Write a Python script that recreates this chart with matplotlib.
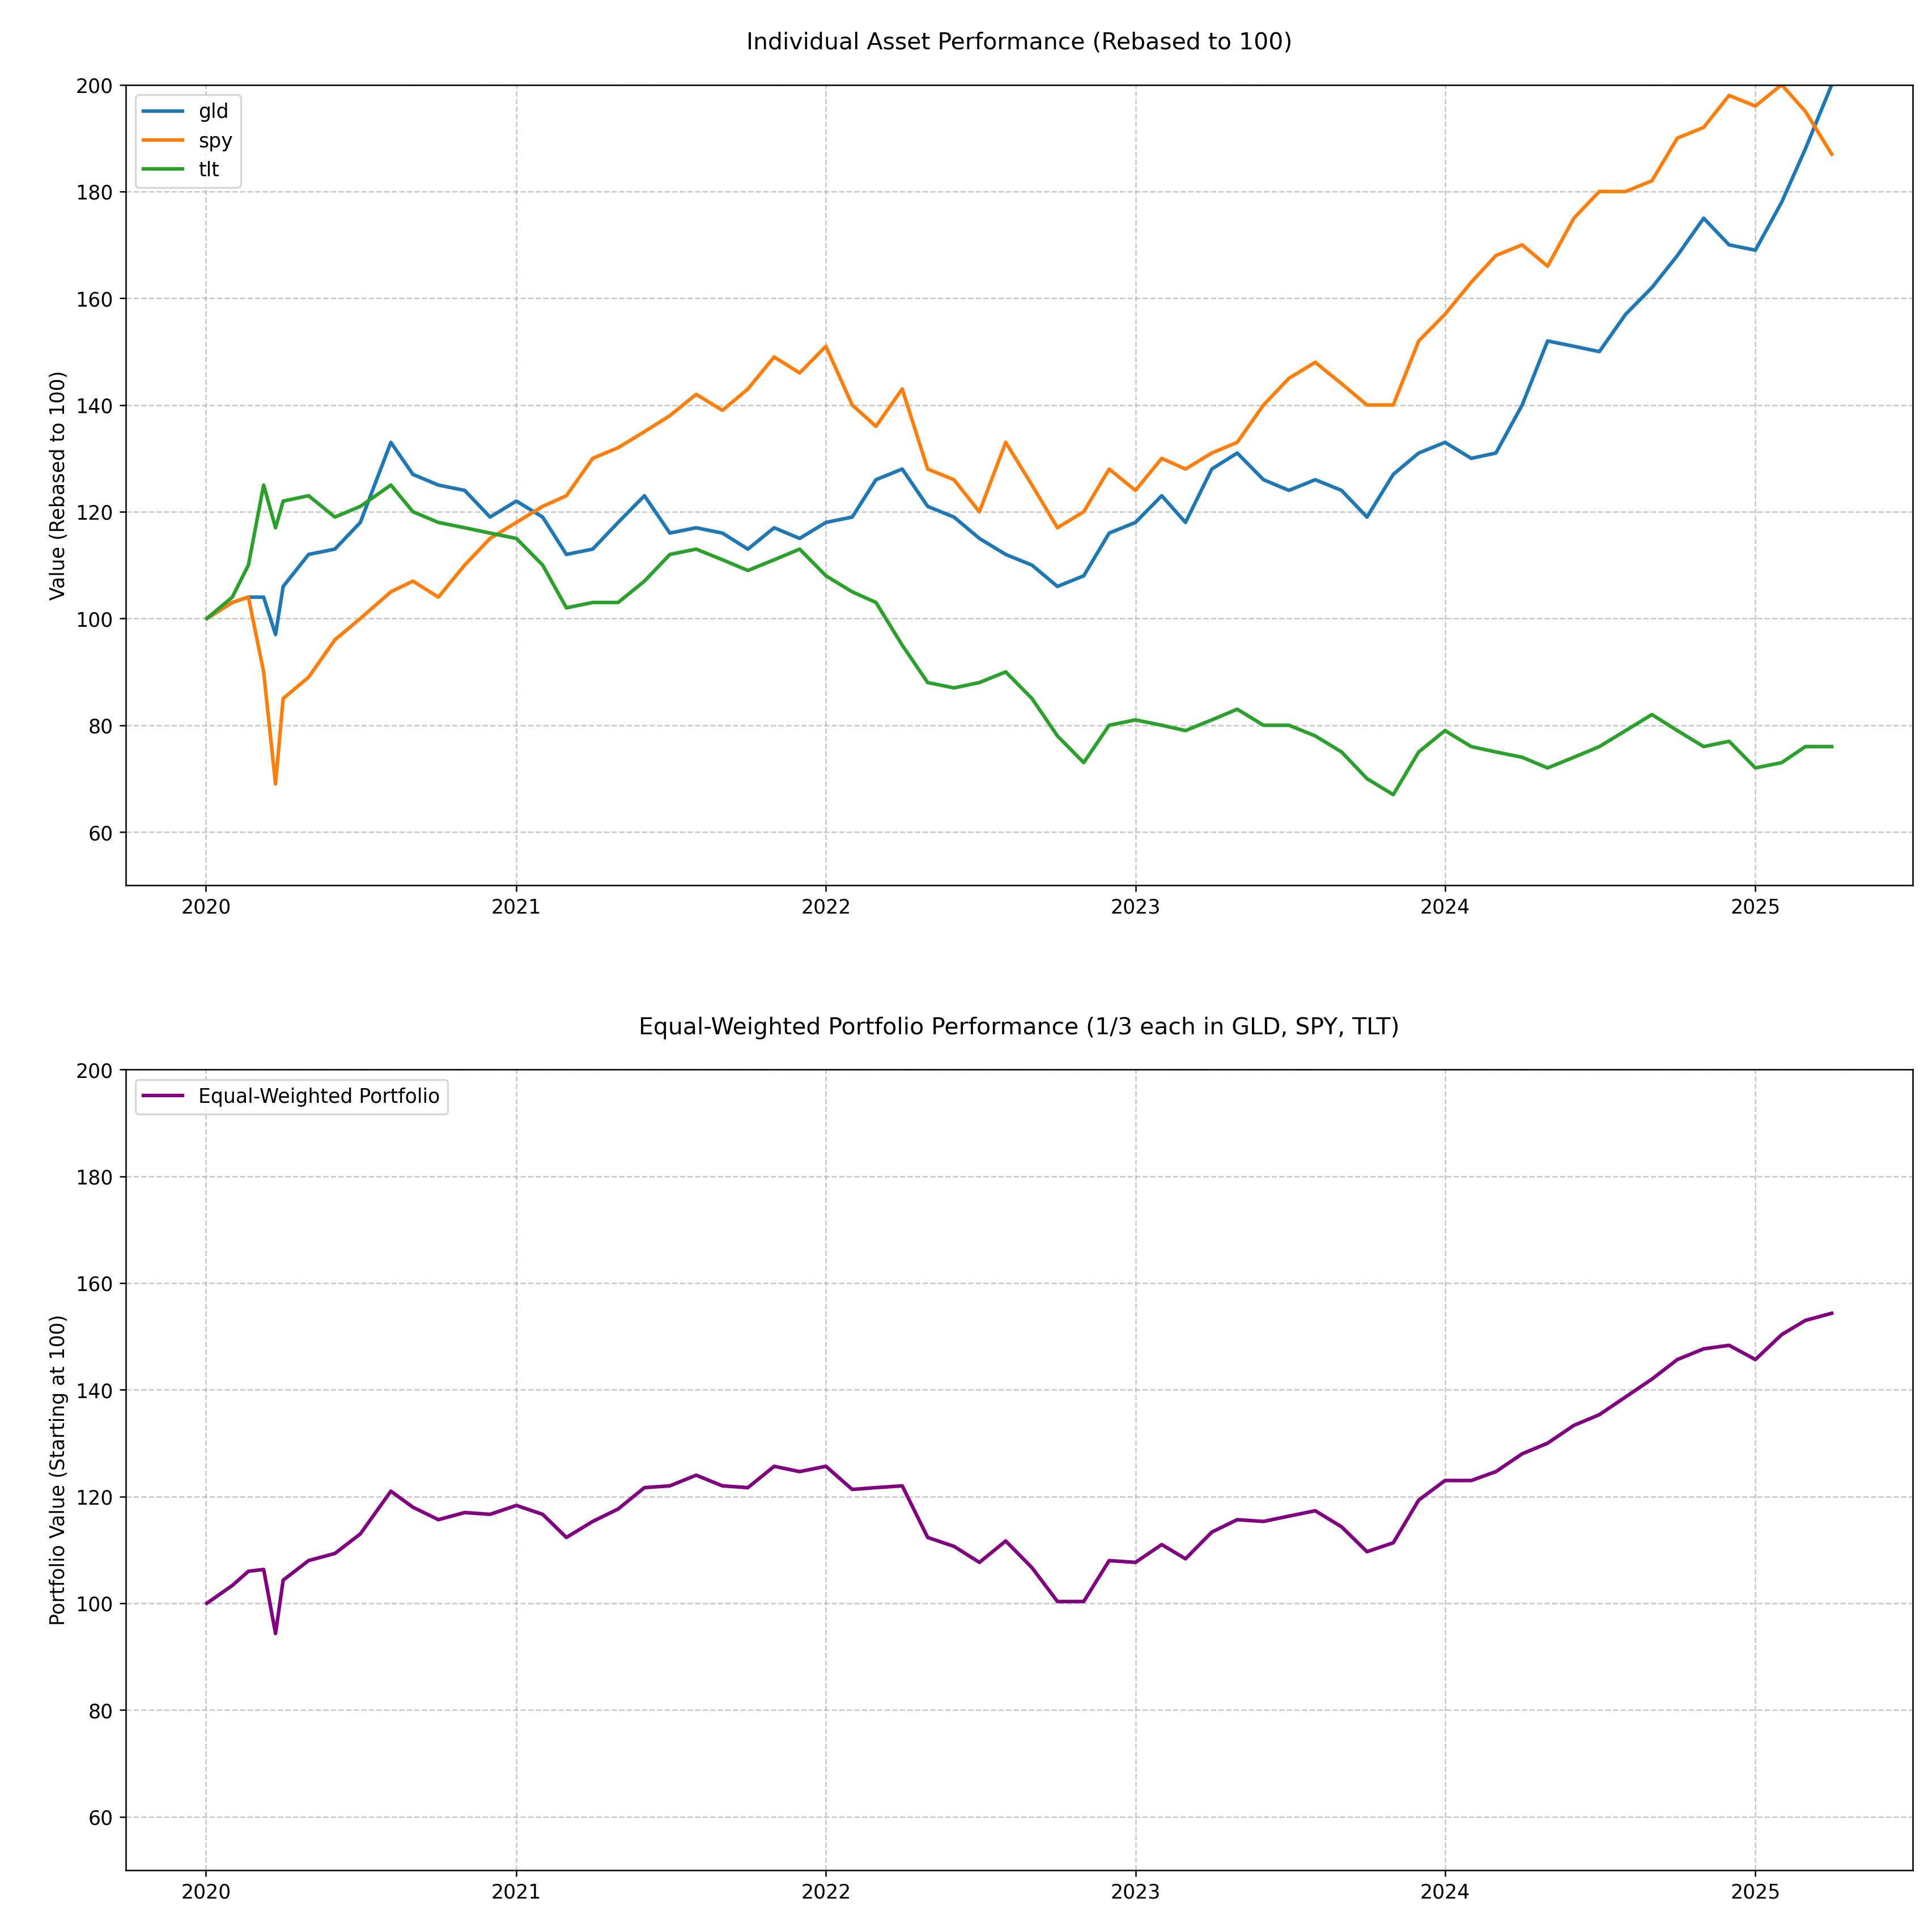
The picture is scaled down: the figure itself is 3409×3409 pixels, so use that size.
import matplotlib
matplotlib.use("Agg")
import matplotlib.pyplot as plt
import pandas as pd
import numpy as np

dates = ["2020-01-02","2020-02-01","2020-02-20","2020-03-09","2020-03-23","2020-04-01","2020-05-01","2020-06-01","2020-07-01","2020-08-06","2020-09-01","2020-10-01","2020-11-01","2020-12-01",
"2021-01-01","2021-02-01","2021-03-01","2021-04-01","2021-05-01","2021-06-01","2021-07-01","2021-08-01","2021-09-01","2021-10-01","2021-11-01","2021-12-01",
"2022-01-01","2022-02-01","2022-03-01","2022-04-01","2022-05-01","2022-06-01","2022-07-01","2022-08-01","2022-09-01","2022-10-01","2022-11-01","2022-12-01",
"2023-01-01","2023-02-01","2023-03-01","2023-04-01","2023-05-01","2023-06-01","2023-07-01","2023-08-01","2023-09-01","2023-10-01","2023-11-01","2023-12-01",
"2024-01-01","2024-02-01","2024-03-01","2024-04-01","2024-05-01","2024-06-01","2024-07-01","2024-08-01","2024-09-01","2024-10-01","2024-11-01","2024-12-01",
"2025-01-01","2025-02-01","2025-03-01","2025-04-01"]
gld = [100,103,104,104,97,106,112,113,118,133,127,125,124,119,
122,119,112,113,118,123,116,117,116,113,117,115,
118,119,126,128,121,119,115,112,110,106,108,116,
118,123,118,128,131,126,124,126,124,119,127,131,
133,130,131,140,152,151,150,157,162,168,175,170,
169,178,188,200]
spy = [100,103,104,90,69,85,89,96,100,105,107,104,110,115,
118,121,123,130,132,135,138,142,139,143,149,146,
151,140,136,143,128,126,120,133,125,117,120,128,
124,130,128,131,133,140,145,148,144,140,140,152,
157,163,168,170,166,175,180,180,182,190,192,198,
196,200,195,187]
tlt = [100,104,110,125,117,122,123,119,121,125,120,118,117,116,
115,110,102,103,103,107,112,113,111,109,111,113,
108,105,103,95,88,87,88,90,85,78,73,80,
81,80,79,81,83,80,80,78,75,70,67,75,
79,76,75,74,72,74,76,79,82,79,76,77,
72,73,76,76]

df = pd.DataFrame({"gld": gld, "spy": spy, "tlt": tlt}, index=pd.to_datetime(dates))
port = df.mean(axis=1)

fig, (ax1, ax2) = plt.subplots(2, 1, figsize=(15, 15), dpi=227.3)
fig.subplots_adjust(left=0.065, right=0.99, top=0.956, bottom=0.032, hspace=0.23)
for c in ["gld", "spy", "tlt"]:
    ax1.plot(df.index, df[c], label=c, lw=2)
ax1.set_title("Individual Asset Performance (Rebased to 100)", pad=20, fontsize=13)
ax1.set_ylabel("Value (Rebased to 100)")
ax1.set_ylim(50, 200)
ax1.grid(True, ls="--", alpha=0.7)
ax1.legend(loc="upper left", fontsize=11)

ax2.plot(port.index, port.values, color="purple", lw=2, label="Equal-Weighted Portfolio")
ax2.set_title("Equal-Weighted Portfolio Performance (1/3 each in GLD, SPY, TLT)", pad=20, fontsize=13)
ax2.set_ylabel("Portfolio Value (Starting at 100)")
ax2.set_ylim(50, 200)
ax2.grid(True, ls="--", alpha=0.7)
ax2.legend(loc="upper left", fontsize=11)
for ax in (ax1, ax2):
    ax.tick_params(labelsize=11)
    ax.yaxis.label.set_size(11)
fig.savefig("out.png", dpi=227.3)
